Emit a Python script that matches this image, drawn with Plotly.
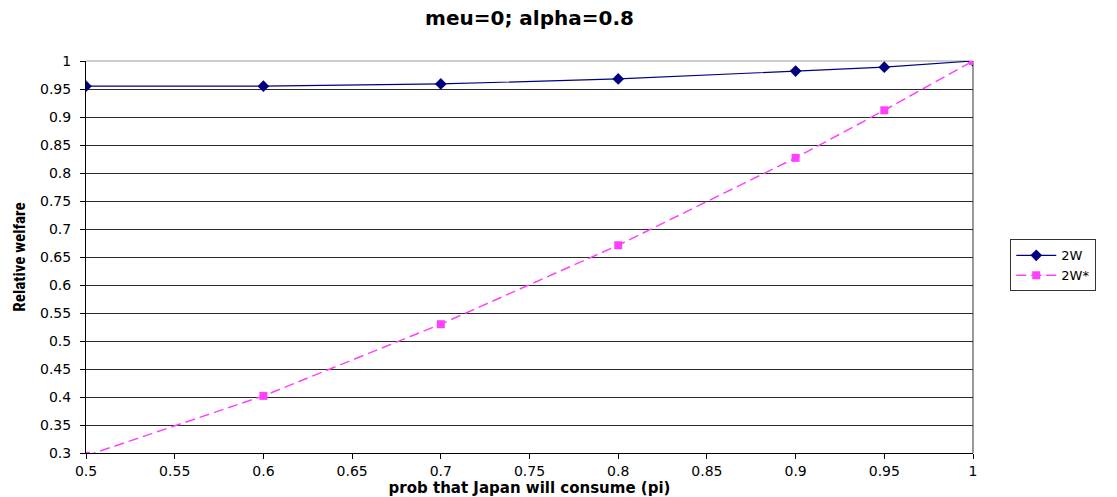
import plotly.graph_objects as go

pi_vals = [0.5, 0.6, 0.7, 0.8, 0.9, 0.95, 1.0]
w2 = [0.955, 0.955, 0.959, 0.968, 0.982, 0.989, 1.0]
w2_star = [0.295, 0.402, 0.530, 0.671, 0.827, 0.912, 1.0]

x_ticks = [0.5, 0.55, 0.6, 0.65, 0.7, 0.75, 0.8, 0.85, 0.9, 0.95, 1.0]
x_tick_labels = ["0.5", "0.55", "0.6", "0.65", "0.7", "0.75", "0.8", "0.85", "0.9", "0.95", "1"]
y_ticks = [0.3, 0.35, 0.4, 0.45, 0.5, 0.55, 0.6, 0.65, 0.7, 0.75, 0.8, 0.85, 0.9, 0.95, 1.0]
y_tick_labels = ["0.3", "0.35", "0.4", "0.45", "0.5", "0.55", "0.6", "0.65", "0.7", "0.75",
                 "0.8", "0.85", "0.9", "0.95", "1"]

font_main = "DejaVu Sans, Verdana, sans-serif"

fig = go.Figure()
fig.add_trace(go.Scatter(
    x=pi_vals, y=w2, name="2W", mode="lines+markers",
    line=dict(color="#000080", width=1.2),
    marker=dict(symbol="diamond", size=9, color="#000080"),
))
fig.add_trace(go.Scatter(
    x=pi_vals, y=w2_star, name="2W*", mode="lines+markers",
    line=dict(color="#FF40FF", width=1.5, dash="10px,5px"),
    marker=dict(symbol="square", size=8, color="#FF40FF"),
))

fig.update_layout(
    width=1117, height=497,
    margin=dict(l=86, r=144, t=61, b=44),
    paper_bgcolor="white", plot_bgcolor="white",
    font=dict(family=font_main, size=14, color="black"),
    title=dict(text="<b>meu=0; alpha=0.8</b>", x=0.5, xref="paper", y=0.963, yanchor="middle",
               font=dict(family=font_main, size=20, color="black")),
    showlegend=True,
    legend=dict(x=1.042, y=0.545, xanchor="left", yanchor="top",
                bgcolor="white", bordercolor="#333333", borderwidth=1,
                font=dict(family=font_main, size=13), tracegroupgap=0,
                itemwidth=40),
    xaxis=dict(
        range=[0.5, 1.0], tickvals=x_ticks, ticktext=x_tick_labels,
        showgrid=False, zeroline=False, automargin=False,
        showline=True, linecolor="black", linewidth=1,
        ticks="outside", ticklen=5, tickcolor="black",
        tickfont=dict(family=font_main, size=14),
        title=dict(text="<b>prob that Japan will consume (pi)</b>", standoff=2,
                   font=dict(family=font_main, size=15)),
    ),
    yaxis=dict(
        range=[0.3, 1.0], tickvals=y_ticks, ticktext=y_tick_labels,
        showgrid=True, gridcolor="#2a2a2a", gridwidth=1, zeroline=False, automargin=False,
        showline=True, linecolor="black", linewidth=1,
        ticks="outside", ticklen=5, tickcolor="black", ticklabelstandoff=6,
        tickfont=dict(family=font_main, size=14),
        title=dict(text="<b>Relative welfare</b>", standoff=10,
                   font=dict(family="Liberation Sans Narrow, Arial Narrow, Roboto Condensed, sans-serif", size=17)),
    ),
    shapes=[
        dict(type="line", xref="paper", yref="paper", x0=1, x1=1, y0=0, y1=1,
             line=dict(color="#999999", width=2), layer="below"),
        dict(type="line", xref="paper", yref="paper", x0=0, x1=1, y0=1, y1=1,
             line=dict(color="#999999", width=1), layer="below"),
    ],
)

fig.write_html("out.html")
